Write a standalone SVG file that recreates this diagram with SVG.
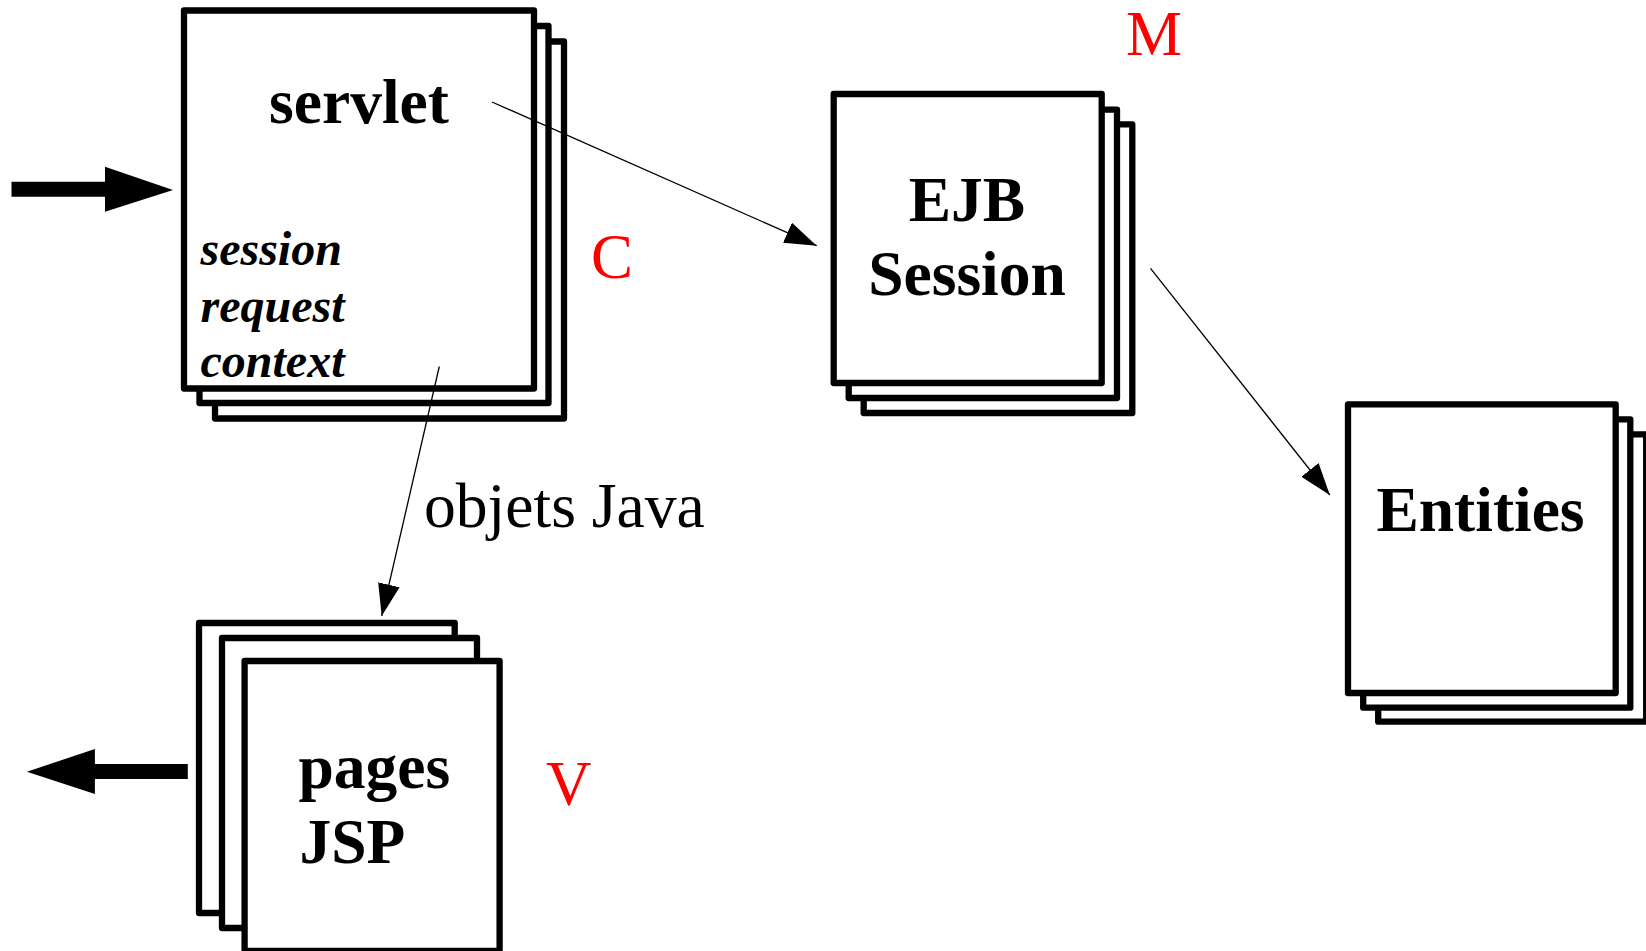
<svg xmlns="http://www.w3.org/2000/svg" width="1646" height="951" viewBox="0 0 1646 951">
<style>
.pg{fill:#fff;stroke:#000;stroke-width:6.3;stroke-linejoin:round}
.lbl{font-family:"Liberation Serif","Times New Roman",serif;font-weight:bold;font-size:63.5px;fill:#000}
.it{font-family:"Liberation Serif","Times New Roman",serif;font-weight:bold;font-style:italic;font-size:48px;fill:#000}
.red{font-family:"Liberation Serif","Times New Roman",serif;font-size:63px;fill:#ff0000}
.txt{font-family:"Liberation Serif","Times New Roman",serif;font-size:63.6px;fill:#000}
.con{stroke:#000;stroke-width:1.3;fill:none}
</style>
<defs>
<marker id="ah" markerUnits="userSpaceOnUse" markerWidth="33" markerHeight="23" refX="32" refY="11" orient="auto" viewBox="0 0 33 23">
<path d="M0,0 L32,11 L0,22 z" fill="#000"/>
</marker>
</defs>
<rect width="1646" height="951" fill="#fff"/>

<g id="servlet">
<rect class="pg" x="215" y="41.5" width="349" height="377"/>
<rect class="pg" x="199.5" y="26" width="349" height="377"/>
<rect class="pg" x="184" y="10.5" width="350" height="378"/>
<text class="lbl" x="359" y="122.7" text-anchor="middle">servlet</text>
<text class="it" x="200.5" y="265">session</text>
<text class="it" x="200.5" y="321.7">request</text>
<text class="it" x="200.5" y="376.7">context</text>
</g>

<g id="ejb">
<rect class="pg" x="863.7" y="124.3" width="268.6" height="288.7"/>
<rect class="pg" x="848.7" y="109.7" width="268.3" height="288.3"/>
<rect class="pg" x="833.7" y="94" width="268" height="289"/>
<text class="lbl" x="967" y="220.7" text-anchor="middle">EJB</text>
<text class="lbl" x="967" y="295" text-anchor="middle">Session</text>
</g>

<g id="entities">
<rect class="pg" x="1378.2" y="434.3" width="268" height="287.4"/>
<rect class="pg" x="1363.2" y="419.3" width="267.1" height="288.4"/>
<rect class="pg" x="1348" y="404.3" width="267.7" height="288.7"/>
<text class="lbl" x="1480.5" y="530.7" text-anchor="middle">Entities</text>
</g>

<g id="jsp">
<rect class="pg" x="199" y="623" width="255.7" height="290"/>
<rect class="pg" x="222" y="638" width="255" height="290"/>
<rect class="pg" x="244.6" y="661" width="255" height="290"/>
<text class="lbl" x="298.5" y="788.3">pages</text>
<text class="lbl" x="299.5" y="863.3">JSP</text>
</g>

<g id="labels">
<text class="red" x="1126" y="55">M</text>
<text class="red" x="591" y="278">C</text>
<text class="red" x="546" y="805">V</text>
<text class="txt" x="424" y="526.7">objets Java</text>
</g>

<g id="connectors">
<path d="M11.5,181.7 H105 V166.7 L173,190 L105,211.7 V196.7 H11.5 Z" fill="#000"/>
<path d="M187.8,764 H94.9 V749 L26.9,771.7 L94.9,794 V779 H187.8 Z" fill="#000"/>
<line class="con" x1="492" y1="102" x2="816.7" y2="245.7" marker-end="url(#ah)"/>
<line class="con" x1="1150.5" y1="268.3" x2="1329.8" y2="495" marker-end="url(#ah)"/>
<line class="con" x1="439.3" y1="366.5" x2="381.7" y2="616" marker-end="url(#ah)"/>
</g>
</svg>
